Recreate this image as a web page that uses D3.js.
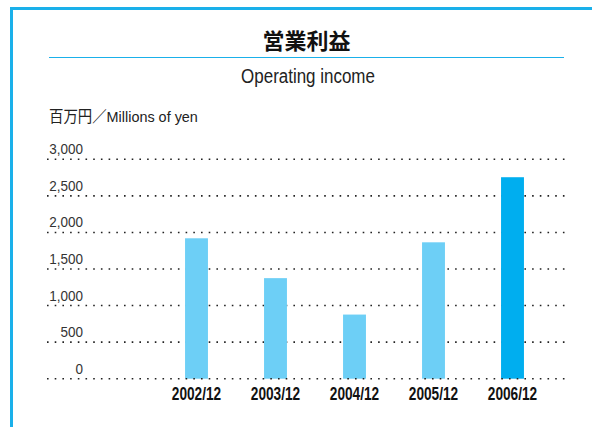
<!DOCTYPE html>
<html lang="ja">
  <head>
    <meta charset="UTF-8" />
    <title>営業利益</title>
    <style>
      body {
        margin: 0;
        background: #fff;
        overflow: hidden;
      }
      .cond {
        font-family: "Liberation Sans", Arial, "Noto Sans CJK JP", sans-serif;
      }
      .grid line {
        stroke: #222;
        stroke-width: 1.6;
        stroke-dasharray: 1.6 6.1;
      }
    </style>
  </head>
  <body>
    <svg width="592" height="427"></svg>

    <script src="https://d3js.org/d3.v7.min.js"></script>
    <script>
      // data
      const periods = ["2002/12", "2003/12", "2004/12", "2005/12", "2006/12"];
      const income = [1920, 1375, 877, 1865, 2755];
      const yTicks = [0, 500, 1000, 1500, 2000, 2500, 3000];

      const blue = "#1ab0ea";
      const light = "#6dcff6";
      const dark = "#00aeef";

      const svg = d3.select("svg");

      // no narrow font installed, so squeeze text horizontally
      const squeeze = (x, y, k) => `translate(${x},${y}) scale(${k},1)`;

      // frame
      svg
        .append("rect")
        .attr("x", 11.5)
        .attr("y", 8.5)
        .attr("width", 620)
        .attr("height", 450)
        .attr("fill", "none")
        .attr("stroke", blue)
        .attr("stroke-width", 3);

      // headings
      svg
        .append("text")
        .attr("x", 306.5)
        .attr("y", 48.5)
        .attr("text-anchor", "middle")
        .style("font-family", "'Noto Sans CJK JP', sans-serif")
        .style("font-weight", "bold")
        .style("font-size", "22px")
        .attr("fill", "#111")
        .text("営業利益");

      svg
        .append("line")
        .attr("x1", 49)
        .attr("x2", 564)
        .attr("y1", 57.5)
        .attr("y2", 57.5)
        .attr("stroke", blue)
        .attr("stroke-width", 1);

      svg
        .append("text")
        .attr("class", "cond")
        .attr("transform", squeeze(308, 83, 0.87))
        .attr("text-anchor", "middle")
        .style("font-size", "19.5px")
        .attr("fill", "#222")
        .text("Operating income");

      svg
        .append("text")
        .attr("class", "cond")
        .attr("transform", squeeze(49, 122, 0.93))
        .style("font-size", "15.5px")
        .attr("fill", "#222")
        .text("百万円／Millions of yen");

      // scales
      const x = d3
        .scaleBand()
        .domain(periods)
        .range([157, 552])
        .paddingInner(0.71)
        .paddingOuter(0.355);

      const y = d3.scaleLinear().domain([0, 3000]).range([378.7, 159.3]);

      // gridlines + tick labels
      const grid = svg.append("g").attr("class", "grid");
      grid
        .selectAll("line")
        .data(yTicks.filter((d) => d > 0))
        .join("line")
        .attr("x1", 47)
        .attr("x2", 565)
        .attr("y1", (d) => y(d))
        .attr("y2", (d) => y(d));

      svg
        .append("g")
        .selectAll("text")
        .data(yTicks)
        .join("text")
        .attr("class", "cond")
        .attr("transform", (d) => squeeze(83, y(d) - 5, 0.9))
        .attr("text-anchor", "end")
        .style("font-size", "15px")
        .attr("fill", "#333")
        .text((d) => d3.format(",")(d));

      // bars
      svg
        .append("g")
        .selectAll("rect")
        .data(income)
        .join("rect")
        .attr("x", (d, i) => x(periods[i]))
        .attr("width", x.bandwidth())
        .attr("y", (d) => y(d))
        .attr("height", (d) => y(0) - y(d))
        .attr("fill", (d, i) => (i === periods.length - 1 ? dark : light));

      // baseline dots sit over the bars
      svg
        .append("g")
        .attr("class", "grid")
        .append("line")
        .attr("x1", 47)
        .attr("x2", 565)
        .attr("y1", y(0))
        .attr("y2", y(0));

      // category labels
      svg
        .append("g")
        .selectAll("text")
        .data(periods)
        .join("text")
        .attr("class", "cond")
        .attr("transform", (d) => squeeze(x(d) + x.bandwidth() / 2, 400, 0.76))
        .attr("text-anchor", "middle")
        .style("font-size", "18px")
        .style("font-weight", "bold")
        .attr("fill", "#111")
        .text((d) => d);
    </script>
  </body>
</html>
